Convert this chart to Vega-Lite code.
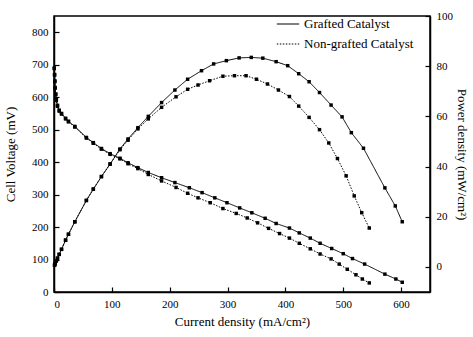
{
  "$schema": "https://vega.github.io/schema/vega-lite/v6.json",
  "width": 376,
  "height": 276,
  "autosize": {"type": "none"},
  "padding": {"left": 54, "top": 16, "right": 43, "bottom": 45},
  "background": "white",
  "config": {
    "font": "Liberation Serif",
    "view": {"stroke": "black", "strokeWidth": 1.5},
    "axis": {
      "domainColor": "black",
      "domainWidth": 1.5,
      "tickColor": "black",
      "tickWidth": 1.2,
      "tickSize": -5,
      "labelPadding": 11,
      "labelFont": "Liberation Serif",
      "labelFontSize": 11,
      "labelColor": "black",
      "titleFont": "Liberation Serif",
      "titleFontSize": 13,
      "titleFontWeight": "normal",
      "titleColor": "black",
      "grid": false
    },
    "legend": {
      "labelFont": "Liberation Serif",
      "labelFontSize": 13,
      "labelColor": "black"
    }
  },
  "datasets": {
    "voltage": [
      {"catalyst": "Grafted Catalyst", "i": 0.5, "v": 690},
      {"catalyst": "Grafted Catalyst", "i": 1, "v": 670},
      {"catalyst": "Grafted Catalyst", "i": 1.5, "v": 650},
      {"catalyst": "Grafted Catalyst", "i": 2, "v": 630},
      {"catalyst": "Grafted Catalyst", "i": 3, "v": 610},
      {"catalyst": "Grafted Catalyst", "i": 4, "v": 592},
      {"catalyst": "Grafted Catalyst", "i": 6, "v": 575},
      {"catalyst": "Grafted Catalyst", "i": 9, "v": 560},
      {"catalyst": "Grafted Catalyst", "i": 13, "v": 550},
      {"catalyst": "Grafted Catalyst", "i": 20, "v": 535},
      {"catalyst": "Grafted Catalyst", "i": 25, "v": 526},
      {"catalyst": "Grafted Catalyst", "i": 36, "v": 510},
      {"catalyst": "Grafted Catalyst", "i": 56, "v": 476},
      {"catalyst": "Grafted Catalyst", "i": 68, "v": 460},
      {"catalyst": "Grafted Catalyst", "i": 82, "v": 442},
      {"catalyst": "Grafted Catalyst", "i": 97, "v": 426},
      {"catalyst": "Grafted Catalyst", "i": 114, "v": 412},
      {"catalyst": "Grafted Catalyst", "i": 128, "v": 398},
      {"catalyst": "Grafted Catalyst", "i": 145, "v": 383},
      {"catalyst": "Grafted Catalyst", "i": 163, "v": 368},
      {"catalyst": "Grafted Catalyst", "i": 186, "v": 352},
      {"catalyst": "Grafted Catalyst", "i": 209, "v": 337},
      {"catalyst": "Grafted Catalyst", "i": 234, "v": 321},
      {"catalyst": "Grafted Catalyst", "i": 256, "v": 306},
      {"catalyst": "Grafted Catalyst", "i": 278, "v": 290},
      {"catalyst": "Grafted Catalyst", "i": 299, "v": 275},
      {"catalyst": "Grafted Catalyst", "i": 321, "v": 259},
      {"catalyst": "Grafted Catalyst", "i": 342, "v": 244},
      {"catalyst": "Grafted Catalyst", "i": 365, "v": 227},
      {"catalyst": "Grafted Catalyst", "i": 384, "v": 211},
      {"catalyst": "Grafted Catalyst", "i": 407, "v": 197},
      {"catalyst": "Grafted Catalyst", "i": 424, "v": 182},
      {"catalyst": "Grafted Catalyst", "i": 443, "v": 166},
      {"catalyst": "Grafted Catalyst", "i": 460, "v": 150},
      {"catalyst": "Grafted Catalyst", "i": 480, "v": 134},
      {"catalyst": "Grafted Catalyst", "i": 500, "v": 118},
      {"catalyst": "Grafted Catalyst", "i": 516, "v": 103},
      {"catalyst": "Grafted Catalyst", "i": 537, "v": 86},
      {"catalyst": "Grafted Catalyst", "i": 572, "v": 55},
      {"catalyst": "Grafted Catalyst", "i": 591, "v": 40},
      {"catalyst": "Grafted Catalyst", "i": 602, "v": 30},
      {"catalyst": "Non-grafted Catalyst", "i": 0.5, "v": 688},
      {"catalyst": "Non-grafted Catalyst", "i": 1, "v": 668},
      {"catalyst": "Non-grafted Catalyst", "i": 1.5, "v": 648},
      {"catalyst": "Non-grafted Catalyst", "i": 2, "v": 628},
      {"catalyst": "Non-grafted Catalyst", "i": 3, "v": 608},
      {"catalyst": "Non-grafted Catalyst", "i": 4, "v": 590},
      {"catalyst": "Non-grafted Catalyst", "i": 6, "v": 572},
      {"catalyst": "Non-grafted Catalyst", "i": 9, "v": 557},
      {"catalyst": "Non-grafted Catalyst", "i": 13, "v": 548},
      {"catalyst": "Non-grafted Catalyst", "i": 20, "v": 533},
      {"catalyst": "Non-grafted Catalyst", "i": 25, "v": 524},
      {"catalyst": "Non-grafted Catalyst", "i": 36, "v": 508},
      {"catalyst": "Non-grafted Catalyst", "i": 56, "v": 474},
      {"catalyst": "Non-grafted Catalyst", "i": 68, "v": 458},
      {"catalyst": "Non-grafted Catalyst", "i": 82, "v": 440},
      {"catalyst": "Non-grafted Catalyst", "i": 97, "v": 424},
      {"catalyst": "Non-grafted Catalyst", "i": 114, "v": 410},
      {"catalyst": "Non-grafted Catalyst", "i": 128, "v": 395},
      {"catalyst": "Non-grafted Catalyst", "i": 145, "v": 380},
      {"catalyst": "Non-grafted Catalyst", "i": 163, "v": 362},
      {"catalyst": "Non-grafted Catalyst", "i": 186, "v": 342},
      {"catalyst": "Non-grafted Catalyst", "i": 211, "v": 322},
      {"catalyst": "Non-grafted Catalyst", "i": 231, "v": 304},
      {"catalyst": "Non-grafted Catalyst", "i": 249, "v": 290},
      {"catalyst": "Non-grafted Catalyst", "i": 270, "v": 275},
      {"catalyst": "Non-grafted Catalyst", "i": 292, "v": 257},
      {"catalyst": "Non-grafted Catalyst", "i": 315, "v": 242},
      {"catalyst": "Non-grafted Catalyst", "i": 334, "v": 228},
      {"catalyst": "Non-grafted Catalyst", "i": 352, "v": 213},
      {"catalyst": "Non-grafted Catalyst", "i": 371, "v": 196},
      {"catalyst": "Non-grafted Catalyst", "i": 390, "v": 180},
      {"catalyst": "Non-grafted Catalyst", "i": 407, "v": 166},
      {"catalyst": "Non-grafted Catalyst", "i": 424, "v": 150},
      {"catalyst": "Non-grafted Catalyst", "i": 443, "v": 133},
      {"catalyst": "Non-grafted Catalyst", "i": 460, "v": 117},
      {"catalyst": "Non-grafted Catalyst", "i": 479, "v": 102},
      {"catalyst": "Non-grafted Catalyst", "i": 493, "v": 86},
      {"catalyst": "Non-grafted Catalyst", "i": 507, "v": 70},
      {"catalyst": "Non-grafted Catalyst", "i": 522, "v": 53},
      {"catalyst": "Non-grafted Catalyst", "i": 533, "v": 40},
      {"catalyst": "Non-grafted Catalyst", "i": 545, "v": 28}
    ],
    "power": [
      {"catalyst": "Grafted Catalyst", "i": 1, "p": 0.7},
      {"catalyst": "Grafted Catalyst", "i": 2, "p": 1.3},
      {"catalyst": "Grafted Catalyst", "i": 4, "p": 2.4},
      {"catalyst": "Grafted Catalyst", "i": 6, "p": 3.5},
      {"catalyst": "Grafted Catalyst", "i": 9, "p": 5},
      {"catalyst": "Grafted Catalyst", "i": 13, "p": 7},
      {"catalyst": "Grafted Catalyst", "i": 20, "p": 10.7},
      {"catalyst": "Grafted Catalyst", "i": 25, "p": 13},
      {"catalyst": "Grafted Catalyst", "i": 36, "p": 18},
      {"catalyst": "Grafted Catalyst", "i": 56, "p": 26.5},
      {"catalyst": "Grafted Catalyst", "i": 68, "p": 31},
      {"catalyst": "Grafted Catalyst", "i": 82, "p": 36},
      {"catalyst": "Grafted Catalyst", "i": 97, "p": 41},
      {"catalyst": "Grafted Catalyst", "i": 114, "p": 47},
      {"catalyst": "Grafted Catalyst", "i": 128, "p": 51},
      {"catalyst": "Grafted Catalyst", "i": 145, "p": 55.5},
      {"catalyst": "Grafted Catalyst", "i": 163, "p": 60},
      {"catalyst": "Grafted Catalyst", "i": 186, "p": 65.5},
      {"catalyst": "Grafted Catalyst", "i": 209, "p": 70.5},
      {"catalyst": "Grafted Catalyst", "i": 231, "p": 74.8},
      {"catalyst": "Grafted Catalyst", "i": 255, "p": 78.2},
      {"catalyst": "Grafted Catalyst", "i": 276, "p": 80.9},
      {"catalyst": "Grafted Catalyst", "i": 298, "p": 82.2},
      {"catalyst": "Grafted Catalyst", "i": 320, "p": 83.3},
      {"catalyst": "Grafted Catalyst", "i": 341, "p": 83.5},
      {"catalyst": "Grafted Catalyst", "i": 361, "p": 83.2},
      {"catalyst": "Grafted Catalyst", "i": 384, "p": 81.8},
      {"catalyst": "Grafted Catalyst", "i": 404, "p": 80.2},
      {"catalyst": "Grafted Catalyst", "i": 423, "p": 77},
      {"catalyst": "Grafted Catalyst", "i": 441, "p": 73.8},
      {"catalyst": "Grafted Catalyst", "i": 459, "p": 69.5},
      {"catalyst": "Grafted Catalyst", "i": 479, "p": 64.5},
      {"catalyst": "Grafted Catalyst", "i": 498, "p": 59.8},
      {"catalyst": "Grafted Catalyst", "i": 514, "p": 53.5},
      {"catalyst": "Grafted Catalyst", "i": 535, "p": 47.3},
      {"catalyst": "Grafted Catalyst", "i": 572, "p": 31.5},
      {"catalyst": "Grafted Catalyst", "i": 590, "p": 24.3},
      {"catalyst": "Grafted Catalyst", "i": 602, "p": 18},
      {"catalyst": "Non-grafted Catalyst", "i": 1, "p": 0.7},
      {"catalyst": "Non-grafted Catalyst", "i": 2, "p": 1.3},
      {"catalyst": "Non-grafted Catalyst", "i": 4, "p": 2.4},
      {"catalyst": "Non-grafted Catalyst", "i": 6, "p": 3.4},
      {"catalyst": "Non-grafted Catalyst", "i": 9, "p": 5},
      {"catalyst": "Non-grafted Catalyst", "i": 13, "p": 7},
      {"catalyst": "Non-grafted Catalyst", "i": 20, "p": 10.6},
      {"catalyst": "Non-grafted Catalyst", "i": 25, "p": 13},
      {"catalyst": "Non-grafted Catalyst", "i": 36, "p": 18},
      {"catalyst": "Non-grafted Catalyst", "i": 56, "p": 26.5},
      {"catalyst": "Non-grafted Catalyst", "i": 68, "p": 31},
      {"catalyst": "Non-grafted Catalyst", "i": 82, "p": 36},
      {"catalyst": "Non-grafted Catalyst", "i": 97, "p": 41},
      {"catalyst": "Non-grafted Catalyst", "i": 114, "p": 46.7},
      {"catalyst": "Non-grafted Catalyst", "i": 128, "p": 50.5},
      {"catalyst": "Non-grafted Catalyst", "i": 145, "p": 55},
      {"catalyst": "Non-grafted Catalyst", "i": 163, "p": 59},
      {"catalyst": "Non-grafted Catalyst", "i": 186, "p": 63.6},
      {"catalyst": "Non-grafted Catalyst", "i": 211, "p": 67.8},
      {"catalyst": "Non-grafted Catalyst", "i": 231, "p": 70.8},
      {"catalyst": "Non-grafted Catalyst", "i": 249, "p": 72.5},
      {"catalyst": "Non-grafted Catalyst", "i": 269, "p": 74.2},
      {"catalyst": "Non-grafted Catalyst", "i": 292, "p": 76},
      {"catalyst": "Non-grafted Catalyst", "i": 312, "p": 76.2},
      {"catalyst": "Non-grafted Catalyst", "i": 332, "p": 76.2},
      {"catalyst": "Non-grafted Catalyst", "i": 350, "p": 74.8},
      {"catalyst": "Non-grafted Catalyst", "i": 369, "p": 72.9},
      {"catalyst": "Non-grafted Catalyst", "i": 388, "p": 70.5},
      {"catalyst": "Non-grafted Catalyst", "i": 407, "p": 67.9},
      {"catalyst": "Non-grafted Catalyst", "i": 423, "p": 64.1},
      {"catalyst": "Non-grafted Catalyst", "i": 441, "p": 59.6},
      {"catalyst": "Non-grafted Catalyst", "i": 459, "p": 54.7},
      {"catalyst": "Non-grafted Catalyst", "i": 475, "p": 49.4},
      {"catalyst": "Non-grafted Catalyst", "i": 490, "p": 43.2},
      {"catalyst": "Non-grafted Catalyst", "i": 505, "p": 36.3},
      {"catalyst": "Non-grafted Catalyst", "i": 519, "p": 28.3},
      {"catalyst": "Non-grafted Catalyst", "i": 532, "p": 21.6},
      {"catalyst": "Non-grafted Catalyst", "i": 545, "p": 15.5}
    ]
  },
  "layer": [
    {
      "data": {"name": "voltage"},
      "mark": {"type": "line", "color": "black", "strokeWidth": 1, "point": {"shape": "square", "filled": true, "size": 12, "color": "black"}},
      "encoding": {
        "x": {
          "field": "i", "type": "quantitative",
          "scale": {"domain": [0, 650], "nice": false},
          "axis": {"values": [0, 100, 200, 300, 400, 500, 600], "title": "Current density (mA/cm²)", "titlePadding": 6}
        },
        "y": {
          "field": "v", "type": "quantitative",
          "scale": {"domain": [0, 850], "nice": false},
          "axis": {"orient": "left", "values": [0, 100, 200, 300, 400, 500, 600, 700, 800], "title": "Cell Voltage (mV)", "titlePadding": 14}
        },
        "strokeDash": {
          "field": "catalyst", "type": "nominal",
          "scale": {"domain": ["Grafted Catalyst", "Non-grafted Catalyst"], "range": [[1, 0], [1.5, 1.5]]},
          "legend": {
            "title": null, "orient": "none", "legendX": 222, "legendY": -4,
            "symbolType": "stroke", "symbolSize": 500, "symbolStrokeColor": "black", "symbolStrokeWidth": 1.2,
            "symbolOpacity": 1, "rowPadding": 1, "labelOffset": 4,
            "encode": {"symbols": {"update": {"stroke": {"value": "black"}, "strokeWidth": {"value": 1.2}, "fill": {"value": "transparent"}, "opacity": {"value": 1}}}}
          }
        }
      }
    },
    {
      "data": {"name": "power"},
      "mark": {"type": "line", "color": "black", "strokeWidth": 1, "point": {"shape": "square", "filled": true, "size": 12, "color": "black"}},
      "encoding": {
        "x": {"field": "i", "type": "quantitative"},
        "y": {
          "field": "p", "type": "quantitative",
          "scale": {"domain": [-10, 100], "nice": false},
          "axis": {"orient": "right", "values": [0, 20, 40, 60, 80, 100], "title": "Power density (mW/cm²)", "titlePadding": 2}
        },
        "strokeDash": {"field": "catalyst", "type": "nominal", "legend": null}
      }
    }
  ],
  "resolve": {"scale": {"y": "independent"}}
}
